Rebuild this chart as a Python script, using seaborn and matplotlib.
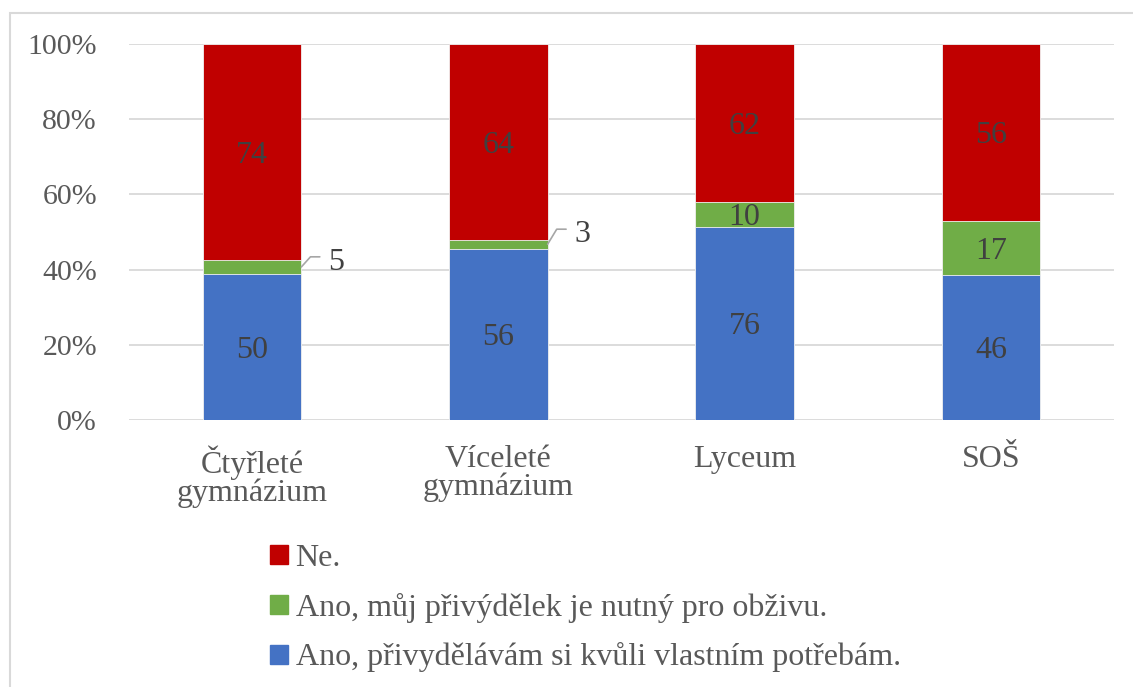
import numpy as np
import pandas as pd
import matplotlib
matplotlib.use('Agg')
import matplotlib.pyplot as plt
import matplotlib.patches as mpatches
import seaborn as sns

# Chart data (counts per school type)
categories = ['Čtyřleté\ngymnázium', 'Víceleté\ngymnázium', 'Lyceum', 'SOŠ']
own_needs = [50, 56, 76, 46]      # Ano, přivydělávám si kvůli vlastním potřebám.
necessary = [5, 3, 10, 17]        # Ano, můj přivýdělek je nutný pro obživu.
no_answer = [74, 64, 62, 56]      # Ne.
series_labels = ['Ne.', 'Ano, můj přivýdělek je nutný pro obživu.',
                 'Ano, přivydělávám si kvůli vlastním potřebám.']

sns.set_style('white')
plt.rcParams['font.family'] = ['Liberation Serif', 'DejaVu Serif']

df = pd.DataFrame({'cat': categories, 'own': own_needs, 'nec': necessary, 'no': no_answer})
df['total'] = df['own'] + df['nec'] + df['no']
df['p_own'] = df['own'] / df['total'] * 100
df['p_nec'] = df['nec'] / df['total'] * 100
df['p_no'] = df['no'] / df['total'] * 100

c_red, c_green, c_blue = '#C00000', '#70AD47', '#4472C4'
fs = 23

fig = plt.figure(figsize=(11.33, 6.87), dpi=100)
ax = fig.add_axes([0.1138, 0.3886, 0.8695, 0.5474])

# stacked via overlapping cumulative bars
sns.barplot(data=df, x='cat', y=df['p_own'] + df['p_nec'] + df['p_no'], color=c_red,
            width=0.4, saturation=1, ax=ax, zorder=3, linewidth=0.6, edgecolor='#f2f2f2')
sns.barplot(data=df, x='cat', y=df['p_own'] + df['p_nec'], color=c_green,
            width=0.4, saturation=1, ax=ax, zorder=3, linewidth=0.6, edgecolor='#f2f2f2')
sns.barplot(data=df, x='cat', y=df['p_own'], color=c_blue,
            width=0.4, saturation=1, ax=ax, zorder=3, linewidth=0.6, edgecolor='#f2f2f2')

ax.set_ylim(0, 100)
ax.set_yticks(np.arange(0, 101, 20))
ax.set_yticklabels([f'{v}%' for v in range(0, 101, 20)])
ax.set_xlabel('')
ax.set_ylabel('')
ax.grid(axis='y', color='#d9d9d9', linewidth=1.3, zorder=0)
for s in ax.spines.values():
    s.set_visible(False)
ax.tick_params(axis='both', length=0, colors='#595959')
ax.tick_params(axis='x', pad=18, labelsize=fs)
ax.tick_params(axis='y', pad=23, labelsize=21.5)
for t in ax.get_xticklabels():
    t.set_linespacing(0.95)
ax.set_xlim(-0.5, 3.5)

# data labels
lab_col = '#404040'
callout_rise = {0: 2.7, 1: 4.0}  # leader line rise for small segments
for i, row in df.iterrows():
    ax.text(i, row['p_own'] / 2, str(row['own']), ha='center', va='center_baseline',
            fontsize=fs, color=lab_col, zorder=5)
    top = row['p_own'] + row['p_nec']
    ax.text(i, top + row['p_no'] / 2, str(row['no']), ha='center', va='center_baseline',
            fontsize=fs, color=lab_col, zorder=5)
    mid = row['p_own'] + row['p_nec'] / 2
    if row['nec'] >= 10:
        ax.text(i, mid, str(row['nec']), ha='center', va='center_baseline',
                fontsize=fs, color=lab_col, zorder=5)
    else:
        # callout with leader line
        rise = callout_rise.get(i, 3)
        ax.plot([i + 0.2, i + 0.237, i + 0.275], [mid, mid + rise, mid + rise],
                color='#a6a6a6', linewidth=1.2, zorder=5, clip_on=False)
        ax.text(i + 0.31, mid + rise - 0.5, str(row['nec']), ha='left', va='center_baseline',
                fontsize=fs, color=lab_col, zorder=5)

handles = [mpatches.Patch(color=c) for c in (c_red, c_green, c_blue)]
fig.legend(handles, series_labels, loc='upper left', bbox_to_anchor=(0.227, 0.227),
           frameon=False, fontsize=fs, handlelength=0.55, handleheight=0.55,
           handletextpad=0.25, labelspacing=0.62, labelcolor='#595959',
           borderaxespad=0)

# outer chart border
fig.patches.append(mpatches.Rectangle((10 / 1133, -0.05), 1.2, 1 - 13 / 687 + 0.05,
                                      transform=fig.transFigure, fill=False,
                                      edgecolor='#d9d9d9', linewidth=1.5))

fig.savefig('out.png', dpi=100)
